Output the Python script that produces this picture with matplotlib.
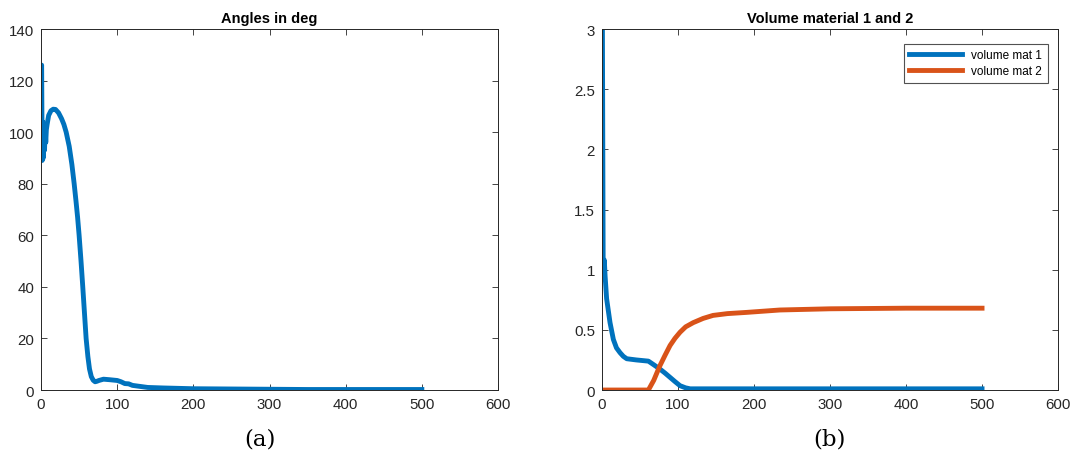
import numpy as np
import matplotlib.pyplot as plt

# (a) angle history
angle_x = [0, 0.8, 1.5, 2.2, 3, 3.8, 4.6, 5.4, 6.2, 7, 8, 10, 13, 16, 19, 23,
           27, 30, 33, 37, 40.5, 43.5, 46, 48, 50, 52.5, 54.8, 57, 59.2,
           61.5, 63.6, 66, 68.5, 71, 73.5, 76, 82, 90, 100, 105, 110, 115,
           120, 130, 140, 160, 200, 250, 300, 350, 400, 450, 500]
angle_y = [126, 126, 89, 104, 90, 100, 93, 102, 96, 101, 103, 106.5, 108.3,
           108.9, 108.8, 107.5, 105.2, 103, 100, 94.5, 87.5, 80, 73, 67, 60,
           50, 40, 30, 20, 13, 8.2, 5.2, 3.8, 3.2, 3.4, 3.7, 4.2, 4.0, 3.7,
           3.2, 2.5, 2.4, 1.8, 1.4, 1.0, 0.8, 0.5, 0.4, 0.3, 0.2, 0.2, 0.2, 0.2]

# (b) volumes
vol1_x = [0, 0.5, 1, 1.5, 2, 3, 4, 6, 10.5, 14.9, 19, 23.7, 28, 32.5, 45, 61,
          68, 76, 83, 89.5, 96, 102.6, 110, 116, 130, 200, 300, 400, 500]
vol1_y = [3.0, 3.0, 2.0, 1.0, 0.98, 1.08, 0.95, 0.76, 0.56, 0.42, 0.35, 0.31,
          0.28, 0.26, 0.25, 0.24, 0.21, 0.175, 0.14, 0.105, 0.07, 0.036, 0.018,
          0.01, 0.01, 0.01, 0.01, 0.01, 0.01]
vol2_x = [0, 20, 40, 61, 68, 76, 83, 89.5, 96, 102.6, 110, 120, 133, 146, 165,
          190, 234, 300, 400, 500]
vol2_y = [0, 0, 0, 0, 0.08, 0.2, 0.29, 0.37, 0.43, 0.48, 0.525, 0.56, 0.595,
          0.62, 0.635, 0.645, 0.665, 0.675, 0.68, 0.68]

blue = '#0072BD'
orange = '#D95319'
dark = '#262626'

plt.rcParams['font.family'] = ['Liberation Sans', 'DejaVu Sans']
fig = plt.figure(figsize=(10.77, 4.56), dpi=100)
ax1 = fig.add_axes([0.0381, 0.1425, 0.4243, 0.7917])
ax2 = fig.add_axes([0.559, 0.1425, 0.4234, 0.7917])

ax1.plot(angle_x, angle_y, color=blue, lw=3.5, solid_joinstyle='round')
ax1.set_xlim(0, 600)
ax1.set_ylim(0, 140)
ax1.set_title('Angles in deg', fontsize=10.5, fontweight='bold', color='black',
              pad=5)

ax2.plot(vol1_x, vol1_y, color=blue, lw=3.5, label='volume mat 1',
         solid_joinstyle='round')
ax2.plot(vol2_x, vol2_y, color=orange, lw=3.5, label='volume mat 2',
         solid_joinstyle='round')
ax2.set_xlim(0, 600)
ax2.set_ylim(0, 3)
ax2.set_yticks([0, 0.5, 1, 1.5, 2, 2.5, 3])
ax2.set_yticklabels(['0', '0.5', '1', '1.5', '2', '2.5', '3'])
ax2.set_title('Volume material 1 and 2', fontsize=10.5, fontweight='bold',
              color='black', pad=5)
leg = ax2.legend(loc='upper right', fontsize=8.5, frameon=True, fancybox=False,
                 handlelength=4.5, borderpad=0.45, labelspacing=0.35,
                 bbox_to_anchor=(0.99, 0.975))
leg.get_frame().set_edgecolor(dark)
leg.get_frame().set_linewidth(0.8)

for ax in (ax1, ax2):
    ax.set_xticks([0, 100, 200, 300, 400, 500, 600])
    ax.tick_params(direction='in', top=True, right=True, labelsize=10.8,
                   colors=dark, length=4, width=0.6, pad=5)
    for s in ax.spines.values():
        s.set_color(dark)
        s.set_linewidth(0.7)

fig.text(0.2415, 0.036, '(a)', ha='center', va='center', fontsize=16.5,
         family='DejaVu Serif')
fig.text(0.7705, 0.036, '(b)', ha='center', va='center', fontsize=16.5,
         family='DejaVu Serif')

fig.savefig('out.png', dpi=100)
